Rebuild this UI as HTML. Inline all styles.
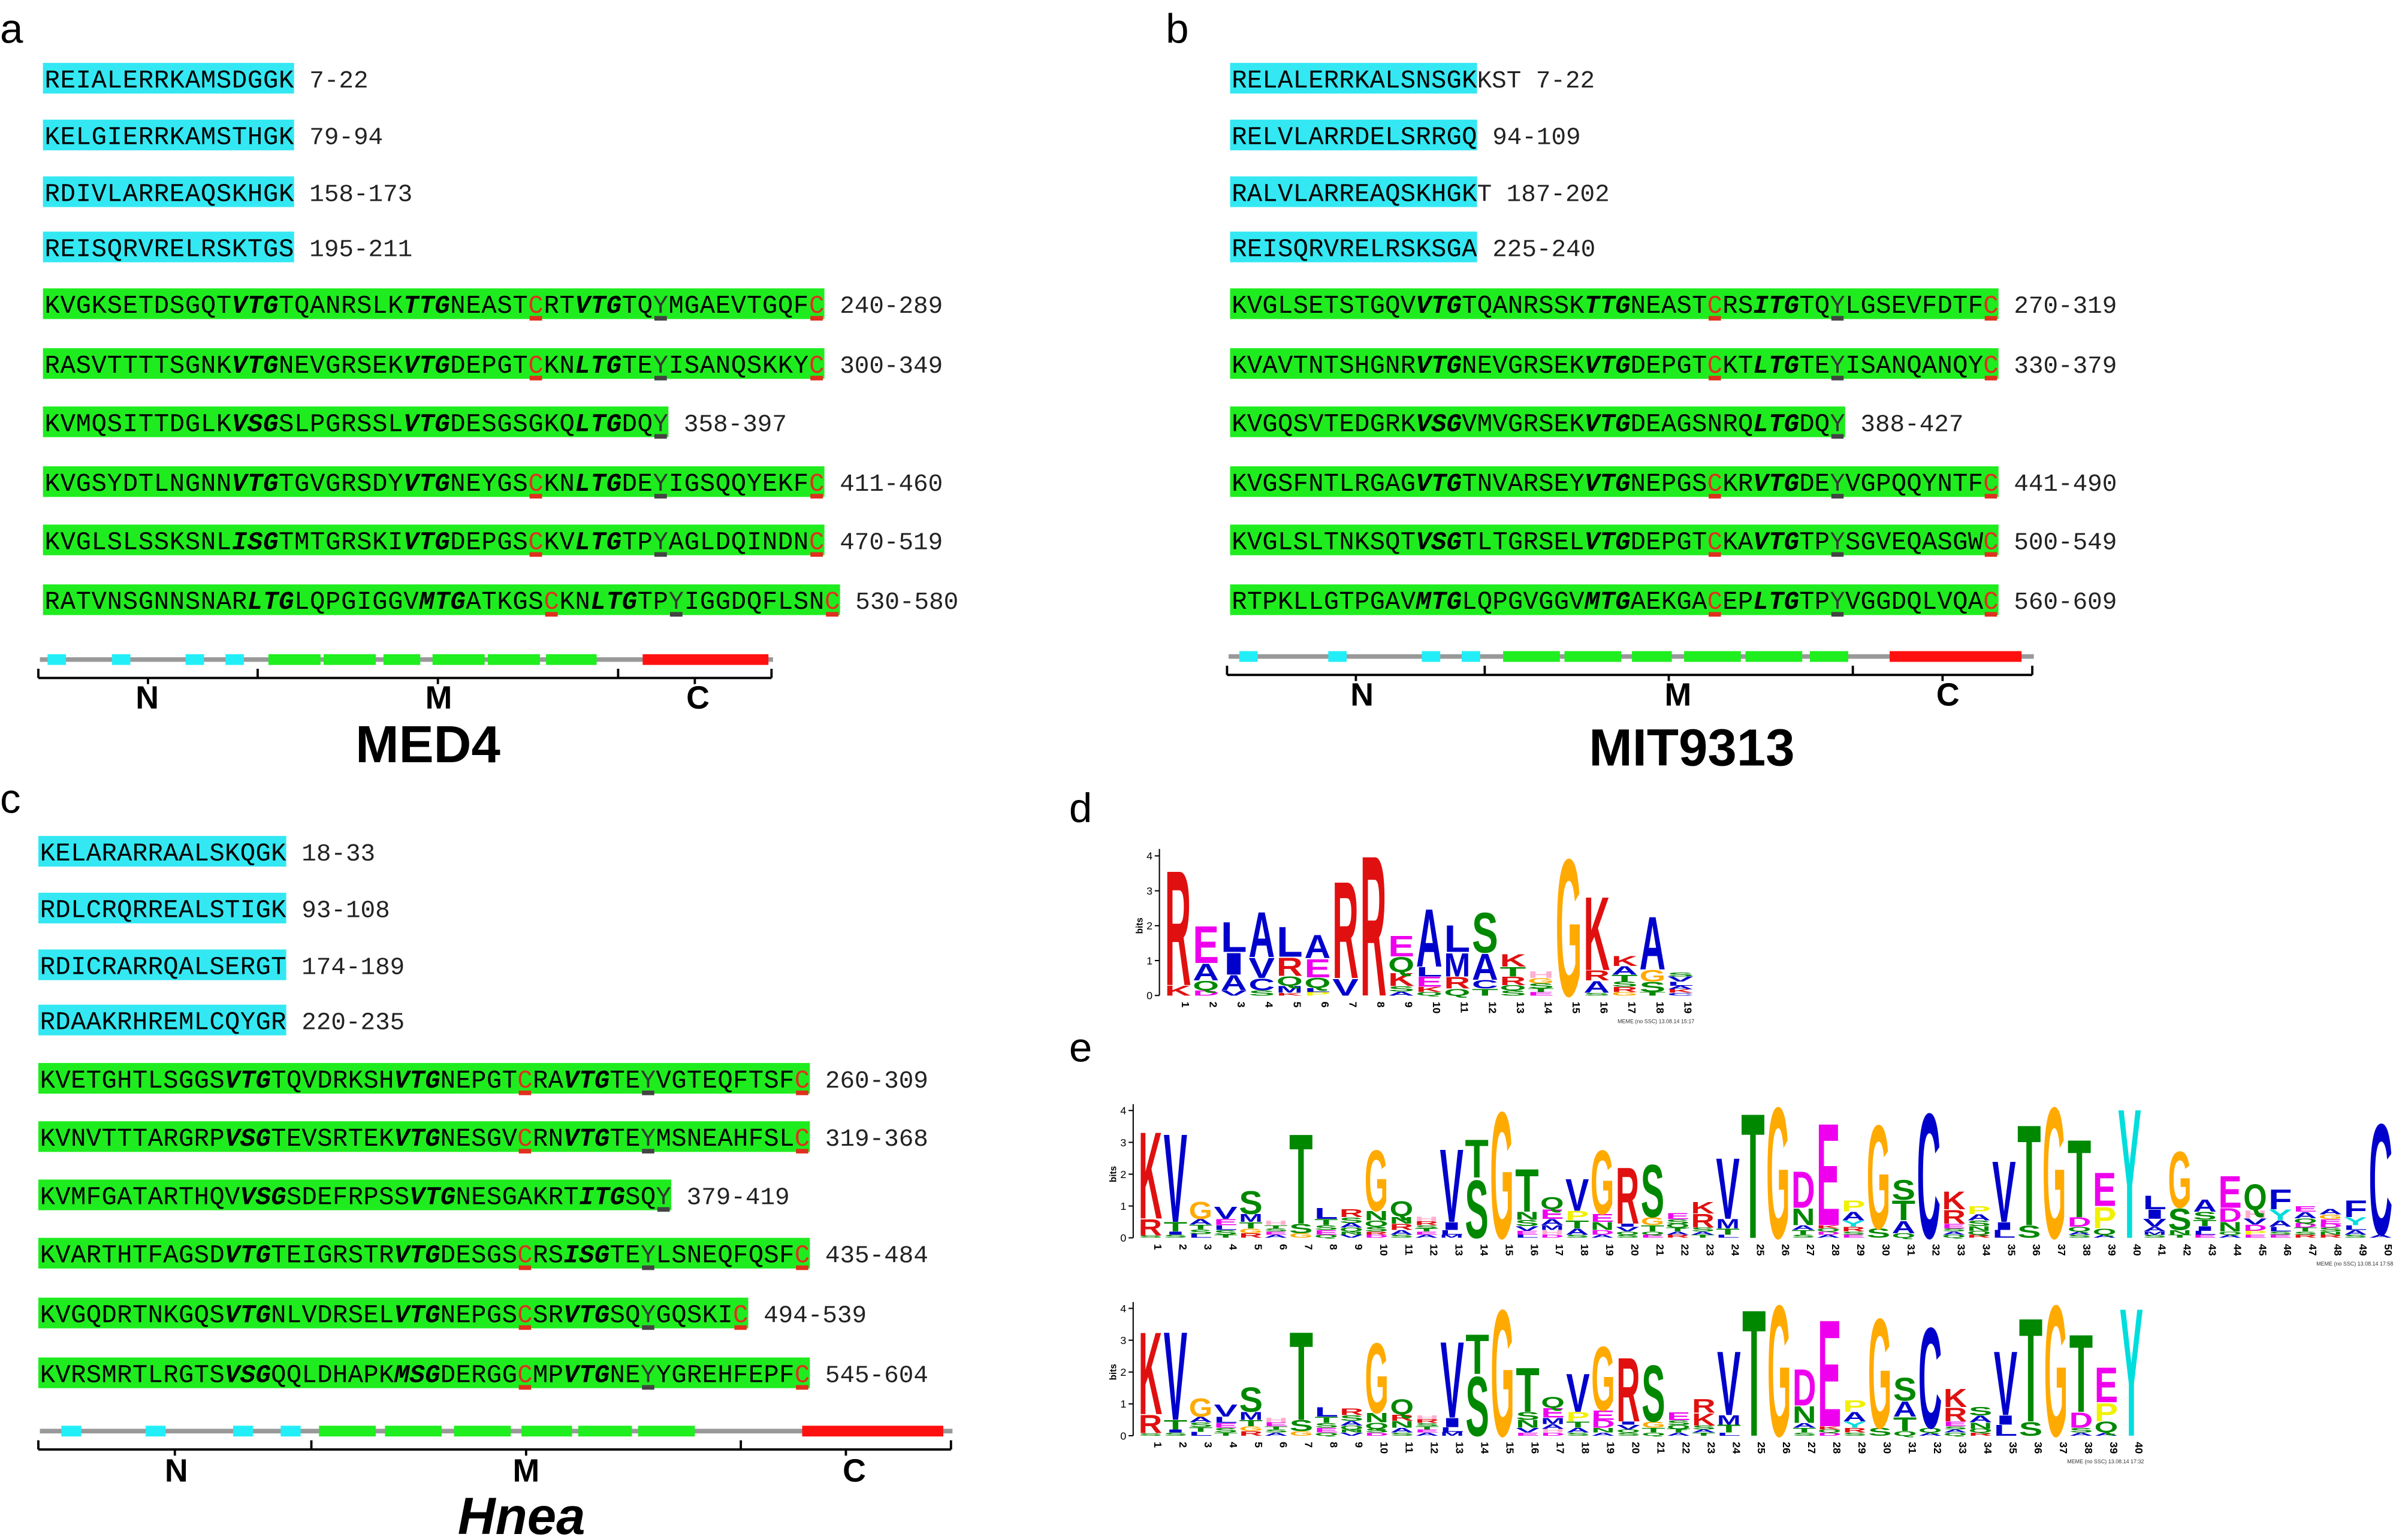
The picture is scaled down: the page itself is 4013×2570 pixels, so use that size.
<!DOCTYPE html>
<html><head><meta charset="utf-8">
<style>
html,body{margin:0;padding:0;background:#fff;}
svg{display:block;}
</style></head>
<body>
<svg id="fig" xmlns="http://www.w3.org/2000/svg" width="4013" height="2570" viewBox="0 0 1568 1004" preserveAspectRatio="none">
<rect width="1568" height="1004" fill="#fff"/>
<g font-family="Liberation Sans, sans-serif" font-size="27" fill="#000">
<text x="0" y="28">a</text>
<text x="760" y="28">b</text>
<text x="0" y="530">c</text>
<text x="697" y="536">d</text>
<text x="697" y="692">e</text>
</g>
<g font-family="Liberation Sans, sans-serif" font-weight="bold" font-size="34" text-anchor="middle">
<text x="279" y="497">MED4</text>
<text x="1103" y="499">MIT9313</text>
<text x="340" y="1000" font-style="italic">Hnea</text>
</g>
<g id="rows"></g>
<g id="domains"></g>
<g id="logos"></g>
</svg>
<script>
const NS="http://www.w3.org/2000/svg";
function mk(tag,attrs,parent){const e=document.createElementNS(NS,tag);for(const k in attrs)e.setAttribute(k,attrs[k]);parent.appendChild(e);return e;}

// ---- sequence data ----
const rowsA=[
["c","REIALERRKAMSDGGK","7-22"],
["c","KELGIERRKAMSTHGK","79-94"],
["c","RDIVLARREAQSKHGK","158-173"],
["c","REISQRVRELRSKTGS","195-211"],
["g","KVGKSETDSGQT[VTG]TQANRSLK[TTG]NEAST{C}RT[VTG]TQ<Y>MGAEVTGQF{C}","240-289"],
["g","RASVTTTTSGNK[VTG]NEVGRSEK[VTG]DEPGT{C}KN[LTG]TE<Y>ISANQSKKY{C}","300-349"],
["g","KVMQSITTDGLK[VSG]SLPGRSSL[VTG]DESGSGKQ[LTG]DQ<Y>","358-397"],
["g","KVGSYDTLNGNN[VTG]TGVGRSDY[VTG]NEYGS{C}KN[LTG]DE<Y>IGSQQYEKF{C}","411-460"],
["g","KVGLSLSSKSNL[ISG]TMTGRSKI[VTG]DEPGS{C}KV[LTG]TP<Y>AGLDQINDN{C}","470-519"],
["g","RATVNSGNNSNAR[LTG]LQPGIGGV[MTG]ATKGS{C}KN[LTG]TP<Y>IGGDQFLSN{C}","530-580"]];
const rowsB=[
["c","RELALERRKALSNSGK","KST 7-22"],
["c","RELVLARRDELSRRGQ","94-109"],
["c","RALVLARREAQSKHGK","T 187-202"],
["c","REISQRVRELRSKSGA","225-240"],
["g","KVGLSETSTGQV[VTG]TQANRSSK[TTG]NEAST{C}RS[ITG]TQ<Y>LGSEVFDTF{C}","270-319"],
["g","KVAVTNTSHGNR[VTG]NEVGRSEK[VTG]DEPGT{C}KT[LTG]TE<Y>ISANQANQY{C}","330-379"],
["g","KVGQSVTEDGRK[VSG]VMVGRSEK[VTG]DEAGSNRQ[LTG]DQ<Y>","388-427"],
["g","KVGSFNTLRGAG[VTG]TNVARSEY[VTG]NEPGS{C}KR[VTG]DE<Y>VGPQQYNTF{C}","441-490"],
["g","KVGLSLTNKSQT[VSG]TLTGRSEL[VTG]DEPGT{C}KA[VTG]TP<Y>SGVEQASGW{C}","500-549"],
["g","RTPKLLGTPGAV[MTG]LQPGVGGV[MTG]AEKGA{C}EP[LTG]TP<Y>VGGDQLVQA{C}","560-609"]];
const rowsC=[
["c","KELARARRAALSKQGK","18-33"],
["c","RDLCRQRREALSTIGK","93-108"],
["c","RDICRARRQALSERGT","174-189"],
["c","RDAAKRHREMLCQYGR","220-235"],
["g","KVETGHTLSGGS[VTG]TQVDRKSH[VTG]NEPGT{C}RA[VTG]TE<Y>VGTEQFTSF{C}","260-309"],
["g","KVNVTTTARGRP[VSG]TEVSRTEK[VTG]NESGV{C}RN[VTG]TE<Y>MSNEAHFSL{C}","319-368"],
["g","KVMFGATARTHQV[VSG]SDEFRPSS[VTG]NESGAKRT[ITG]SQ<Y>","379-419"],
["g","KVARTHTFAGSD[VTG]TEIGRSTR[VTG]DESGS{C}RS[ISG]TE<Y>LSNEQFQSF{C}","435-484"],
["g","KVGQDRTNKGQS[VTG]NLVDRSEL[VTG]NEPGS{C}SR[VTG]SQ<Y>GQSKI{C}","494-539"],
["g","KVRSMRTLRGTS[VSG]QQLDHAPK[MSG]DERGG{C}MP[VTG]NE<Y>YGREHFEPF{C}","545-604"]];
const ysAB=[51,88,125,161,198,237,275,314,352,391];
const ysC=[555,592,629,665,703,741,779,817,856,895];

function parseSeq(s){const out=[];let mode="n";for(const ch of s){if(ch=="["){mode="b";continue;}if(ch=="]"){mode="n";continue;}if(ch=="{"){mode="c";continue;}if(ch=="}"){mode="n";continue;}if(ch=="<"){mode="y";continue;}if(ch==">"){mode="n";continue;}out.push([ch,mode]);}return out;}

function drawPanel(rows,ys,x0,cw,panel){
  const g=document.getElementById("rows");
  rows.forEach((r,ri)=>{
    const chars=parseSeq(r[1]);const yc=ys[ri];
    const grp=mk("g",{},g);
    
    
    mk("rect",{x:x0-1,y:yc-10,width:chars.length*cw+1,height:20,fill:r[0]=="c"?"#33e8f2":"#1fec1f"},grp);
    chars.forEach((c,i)=>{
      const cx=x0+(i+0.5)*cw;
      const t=mk("text",{x:cx,y:yc+6,"text-anchor":"middle","font-family":"Liberation Mono, monospace","font-size":16.5},grp);
      t.textContent=c[0];
      if(c[1]=="b"){t.setAttribute("font-weight","bold");t.setAttribute("font-style","italic");}
      if(c[1]=="c"){t.setAttribute("fill","#e0301e");mk("rect",{x:cx-cw*0.4,y:yc+8,width:cw*0.8,height:3,fill:"#e0301e"},grp);}
      if(c[1]=="y"){t.setAttribute("fill","#333");mk("rect",{x:cx-cw*0.4,y:yc+8,width:cw*0.8,height:3,fill:"#444"},grp);}
    });
    const rt=mk("text",{x:x0+chars.length*cw+(r[2].startsWith("K")||r[2].startsWith("T")?0:10),y:yc+6,"font-family":"Liberation Mono, monospace","font-size":16,fill:"#222"},grp);
    rt.textContent=r[2];
    
    
  });
}
drawPanel(rowsA,ysAB,29,10.17,"med4");
drawPanel(rowsB,ysAB,803,10.0,"mit9313");
drawPanel(rowsC,ysC,26,10.04,"hnea");

// ---- domain diagrams ----
const domains=[
 {name:"med4",y:430,x1:26,x2:504,cyan:[[31,43],[73,85],[121,133],[147,159]],green:[[175,209],[211,245],[250,274],[282,316],[318,352],[356,389]],red:[419,501],br:[25,168,403,503],lab:[96,286,455],ly:462},
 {name:"mit9313",y:428,x1:801,x2:1326,cyan:[[808,820],[866,878],[927,939],[953,965]],green:[[980,1017],[1020,1057],[1064,1090],[1098,1135],[1138,1175],[1180,1205]],red:[1232,1318],br:[800,968,1208,1325],lab:[888,1094,1270],ly:460},
 {name:"hnea",y:933,x1:26,x2:621,cyan:[[40,53],[95,108],[152,165],[183,196]],green:[[208,245],[251,288],[296,333],[340,373],[377,412],[416,453]],red:[523,615],br:[25,203,483,620],lab:[115,343,557],ly:966}];
domains.forEach(d=>{
  const g=mk("g",{},document.getElementById("domains"));
  
  
  mk("line",{x1:d.x1,x2:d.x2,y1:d.y,y2:d.y,stroke:"#999","stroke-width":3},g);
  d.cyan.forEach(c=>mk("rect",{x:c[0],y:d.y-3.5,width:c[1]-c[0],height:7,fill:"#22eef8"},g));
  d.green.forEach(c=>mk("rect",{x:c[0],y:d.y-3.5,width:c[1]-c[0],height:7,fill:"#1fee1f"},g));
  mk("rect",{x:d.red[0],y:d.y-3.5,width:d.red[1]-d.red[0],height:7,fill:"#ff1010"},g);
  const by=d.y+12;
  mk("line",{x1:d.br[0],x2:d.br[3],y1:by,y2:by,stroke:"#000","stroke-width":1.5},g);
  d.br.forEach(x=>mk("line",{x1:x,x2:x,y1:by-6,y2:by,stroke:"#000","stroke-width":1.5},g));
  for(let i=0;i<3;i++){const m=(d.br[i]+d.br[i+1])/2;mk("line",{x1:m,x2:m,y1:by,y2:by+4,stroke:"#000","stroke-width":1.5},g);}
  ["N","M","C"].forEach((L,i)=>{const t=mk("text",{x:d.lab[i],y:d.ly,"text-anchor":"middle","font-family":"Liberation Sans, sans-serif","font-weight":"bold","font-size":21},g);t.textContent=L;});
});

// ---- sequence logos (letter:bits, top to bottom) ----
const logoD=["R3.44 K0.3","E1.1 A0.5 Q0.28 D0.15","L0.9 I0.65 A0.45 V0.15","A1.35 V0.6 C0.35 S0.15","L0.9 R0.55 Q0.28 M0.2 K0.08","A0.7 E0.55 Q0.3 L0.12 P0.1","R2.9 V0.5","R4.2","E0.62 Q0.45 K0.4 S0.15 A0.12","A1.73 L0.28 E0.3 K0.15 Q0.1","L0.8 M0.7 R0.35 Q0.2","S1.2 A0.78 C0.25 T0.2","K0.37 T0.28 R0.25 Q0.15 S0.15","H0.2 G0.15 S0.15 T0.1 E0.1","G4.1","K2.2 R0.3 A0.35 S0.08","K0.3 A0.25 T0.2 S0.15 R0.15 G0.1","A1.58 G0.35 S0.3 T0.1","S0.12 V0.15 L0.12 A0.1 K0.1 C0.08"];
const logoE1=["K2.85 R0.53 S0.08","V2.9 T0.3 I0.1 S0.1","G0.56 A0.18 T0.15 S0.15 L0.12","V0.4 E0.2 L0.15 S0.15 T0.1","S0.75 M0.25 T0.2 G0.15 R0.15","H0.15 T0.1 S0.1 E0.1 A0.1","T2.95 S0.3 G0.15","L0.35 T0.2 S0.15 E0.15 Q0.1","R0.25 S0.18 A0.15 Q0.12 N0.1 V0.1","G2.0 N0.3 Q0.2 S0.15 R0.1 D0.1","Q0.5 N0.22 R0.2 A0.15 S0.1","H0.15 R0.12 S0.1 T0.1 E0.1 A0.1","V2.4 I0.25 L0.15 M0.1","T1.25 S1.9","G4.15","T1.4 N0.25 S0.2 V0.15 E0.12 L0.1","Q0.4 E0.3 A0.2 M0.15 H0.15 D0.1","V1.05 P0.3 T0.25 A0.2 S0.1","G2.1 E0.25 N0.25 D0.15 A0.1","R1.85 I0.1 V0.15 Q0.1 S0.1","S1.72 G0.25 T0.2 Q0.1 E0.1","E0.2 S0.15 Q0.12 T0.12 A0.1 R0.1","K0.38 R0.45 S0.12 A0.1 T0.1","V2.0 M0.3 T0.2 L0.1","T4.1","G4.3","D1.2 N0.55 A0.15 T0.15 S0.1","E3.35 K0.1 Q0.1 D0.1 A0.1","P0.35 A0.28 Y0.2 R0.15 S0.1 E0.1","G3.4 S0.3","S0.65 T0.65 A0.4 Q0.15","C4.1","K0.58 R0.45 E0.15 S0.1 A0.1 Q0.1","P0.25 A0.2 S0.18 N0.15 Q0.12 R0.1","V2.0 I0.25 L0.25","T3.3 S0.4","G4.3","T2.55 D0.3 Q0.15 A0.1 S0.1","E1.1 P0.7 Q0.2 A0.1","Y4.25","L0.45 I0.3 V0.25 A0.15 M0.1 S0.1","G1.85 S0.7 N0.15 T0.1","A0.4 S0.25 T0.2 I0.15 L0.12 E0.1","E1.05 D0.45 N0.3 Q0.1 A0.1","Q0.85 H0.25 V0.2 D0.2 P0.12 E0.1","F0.65 Y0.35 A0.2 L0.15 S0.1 E0.1","E0.18 A0.2 Q0.15 D0.15 T0.12 S0.1 R0.1","A0.18 G0.15 E0.15 D0.12 S0.12 N0.1 R0.1","F0.55 Y0.25 L0.15 A0.15 S0.1","C3.65 A0.1"];
const logoE2=["K2.7 R0.6 S0.08","V2.9 T0.3 I0.1 S0.1","G0.6 A0.18 S0.15 T0.15 L0.12","V0.4 L0.2 E0.15 S0.15 T0.1","S0.8 M0.25 T0.2 G0.15 R0.15","H0.15 E0.12 T0.1 S0.1 A0.1","T2.9 S0.35 G0.15","L0.3 T0.2 S0.15 E0.15 Q0.1","R0.22 S0.18 A0.15 Q0.12 N0.1 V0.1","G2.3 N0.3 Q0.2 S0.12 D0.1","Q0.5 R0.2 N0.22 A0.15 S0.1","H0.12 R0.12 S0.1 T0.1 E0.1 A0.1","V2.5 I0.3 L0.15 M0.12","T1.3 S1.95","G4.15","T1.45 S0.25 N0.25 V0.15 E0.1","Q0.35 E0.3 M0.2 A0.15 H0.12 D0.1","V1.25 P0.3 T0.2 A0.15 S0.1","G2.1 E0.3 D0.25 N0.15 A0.1","R2.1 I0.1 V0.15 Q0.1 S0.1","S1.85 G0.2 T0.15 Q0.1","E0.25 S0.15 Q0.12 T0.12 A0.1","R0.45 K0.4 S0.12 A0.1 T0.1","V2.1 M0.3 T0.25 L0.1","T4.15","G4.3","D1.2 N0.55 A0.15 T0.15 S0.1","E3.5 K0.1 Q0.1 D0.1","P0.38 A0.3 Y0.2 R0.15 S0.1","G3.6 S0.25","S0.75 A0.5 T0.45 Q0.15","C3.3 Q0.15 A0.1","K0.6 R0.45 E0.15 S0.1 A0.1 Q0.1","S0.28 A0.22 N0.2 Q0.12 R0.1","V2.1 I0.3 L0.35","T3.4 S0.45","G4.3","T2.55 D0.5 S0.15 A0.1","E1.15 P0.6 Q0.35 A0.1","Y4.2"];

const colors={A:"#0000cc",C:"#0000cc",F:"#0000cc",I:"#0000cc",L:"#0000cc",M:"#0000cc",V:"#0000cc",W:"#0000cc",K:"#e01010",R:"#e01010",D:"#ee00ee",E:"#ee00ee",N:"#008800",Q:"#008800",S:"#008800",T:"#008800",G:"#ffaa00",H:"#ffb0d0",P:"#f0f000",Y:"#00dddd"};

function drawLogo(name,cols,x0,step,base,bitPx,stamp){
  const g=mk("g",{},document.getElementById("logos"));
  
  
  const ax=x0-step/2-3;
  mk("line",{x1:ax,x2:ax,y1:base,y2:base-4.2*bitPx,stroke:"#000","stroke-width":0.8},g);
  for(let b=0;b<=4;b++){
    const y=base-b*bitPx;
    mk("line",{x1:ax-3,x2:ax,y1:y,y2:y,stroke:"#000","stroke-width":0.8},g);
    const t=mk("text",{x:ax-4.5,y:y+2.5,"text-anchor":"end","font-family":"Liberation Sans, sans-serif","font-size":7},g);t.textContent=b;
  }
  const bl=mk("text",{x:0,y:0,transform:`translate(${ax-11},${base-2*bitPx}) rotate(-90)`,"text-anchor":"middle","font-family":"Liberation Sans, sans-serif","font-weight":"bold","font-size":6},g);bl.textContent="bits";
  cols.forEach((col,i)=>{
    const cx=x0+i*step;
    const items=col.split(" ").map(s=>[s[0],parseFloat(s.slice(1))]);
    let y=base;
    for(let k=items.length-1;k>=0;k--){
      const [L,h]=items[k];const hp=h*bitPx;
      if(hp<0.4){y-=hp;continue;}
      const w=step*0.94;
      const t=mk("text",{x:0,y:0,"font-family":"Liberation Sans, sans-serif","font-weight":"bold","font-size":10,textLength:w,lengthAdjust:"spacingAndGlyphs",fill:colors[L]||"#888",transform:`translate(${cx-w/2},${y}) scale(1,${hp/7.3})`},g);
      t.textContent=L;
      
      
      y-=hp;
    }
    const n=mk("text",{x:0,y:0,transform:`translate(${cx+2.5},${base+4}) rotate(90)`,"font-family":"Liberation Sans, sans-serif","font-weight":"bold","font-size":7},g);
    n.textContent=i+1;
  });
  const st=mk("text",{x:x0+(cols.length-1)*step+step/2,y:base+18,"text-anchor":"end","font-family":"Liberation Sans, sans-serif","font-size":3.5,fill:"#333"},g);
  st.textContent=stamp;
}
drawLogo("logo-d",logoD,768,18.2,649,22.75,"MEME (no SSC) 13.08.14 15:17");
drawLogo("logo-e-top",logoE1,750,16.37,807,20.75,"MEME (no SSC) 13.08.14 17:58");
drawLogo("logo-e-bottom",logoE2,750,16.4,936,20.75,"MEME (no SSC) 13.08.14 17:32");
</script>
</body></html>
